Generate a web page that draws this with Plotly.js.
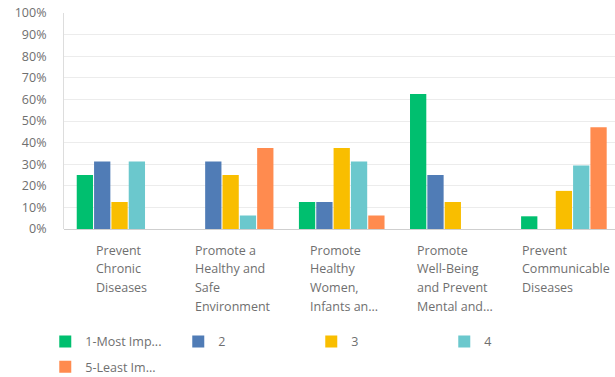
<!DOCTYPE html>
<html><head><meta charset="utf-8">
<script src="https://cdn.plot.ly/plotly-3.0.1.min.js"></script>
<style>html,body{margin:0;padding:0;background:#fff;overflow:hidden}</style>
</head><body><div id="chart" style="width:615px;height:377px"></div>
<script>
const categories = ["Prevent Chronic Diseases", "Promote a Healthy and Safe Environment", "Promote Healthy Women, Infants an...", "Promote Well-Being and Prevent Mental and...", "Prevent Communicable Diseases"];
const categoryLabelLines = [
  ["Prevent", "Chronic", "Diseases"],
  ["Promote a", "Healthy and", "Safe", "Environment"],
  ["Promote", "Healthy", "Women,", "Infants an..."],
  ["Promote", "Well-Being", "and Prevent", "Mental and..."],
  ["Prevent", "Communicable", "Diseases"]
];
const seriesNames = ["1-Most Imp...", "2", "3", "4", "5-Least Im..."];
const seriesColors = ["#00BF6F", "#507CB6", "#F9BE00", "#6BC8CD", "#FF8B4F"];
const rank1 = [25, 0, 12.5, 62.5, 5.88];
const rank2 = [31.25, 31.25, 12.5, 25, 0];
const rank3 = [12.5, 25, 37.5, 12.5, 17.65];
const rank4 = [31.25, 6.25, 31.25, 0, 29.41];
const rank5 = [0, 37.5, 6.25, 0, 47.06];
const yTickValues = [0, 10, 20, 30, 40, 50, 60, 70, 80, 90, 100];
const yTickLabels = ["0%", "10%", "20%", "30%", "40%", "50%", "60%", "70%", "80%", "90%", "100%"];

const seriesValues = [rank1, rank2, rank3, rank4, rank5];
const FONT = '"Open Sans", sans-serif';
const FS = 12.5;
const TEXT_COLOR = '#6f6f6f';

const traces = seriesValues.map((vals, i) => ({
  type: 'bar',
  name: seriesNames[i],
  x: categories,
  y: vals,
  marker: {color: seriesColors[i]},
  legend: i < 4 ? 'legend' : 'legend2',
  hoverinfo: 'none'
}));

// measure label widths so each block is left-aligned and centred under its group
const cv = document.createElement('canvas').getContext('2d');
cv.font = FS + 'px "Open Sans"';
const annotations = [];
categoryLabelLines.forEach((lines, ci) => {
  const blockW = Math.max(...lines.map(l => cv.measureText(l).width));
  lines.forEach((line, li) => {
    annotations.push({
      xref: 'x', yref: 'paper', x: categories[ci], y: 0,
      xanchor: 'left', yanchor: 'middle',
      xshift: -blockW / 2, yshift: -21 - li * 18.7,
      text: line, showarrow: false, align: 'left',
      font: {family: FONT, size: FS, color: TEXT_COLOR}
    });
  });
});

const legendCommon = {
  orientation: 'h', xanchor: 'left', yanchor: 'middle',
  font: {family: FONT, size: FS, color: TEXT_COLOR},
  entrywidth: 88, entrywidthmode: 'pixels',
  bgcolor: 'rgba(0,0,0,0)', borderwidth: 0
};

const layout = {
  width: 615, height: 377,
  margin: {l: 64, r: 0, t: 13, b: 148, autoexpand: false},
  paper_bgcolor: '#fff', plot_bgcolor: '#fff',
  barmode: 'group', bargap: 0.22, bargroupgap: 0.06,
  showlegend: true,
  legend: Object.assign({x: -0.034, y: -0.523}, legendCommon),
  legend2: Object.assign({x: -0.034, y: -0.639}, legendCommon),
  xaxis: {
    type: 'category', range: [-0.5, 4.46], showticklabels: false,
    showgrid: false, zeroline: false, showline: false, ticks: ''
  },
  yaxis: {
    range: [0, 100], tickvals: yTickValues, ticktext: yTickLabels,
    showgrid: true, gridcolor: '#ececec', gridwidth: 1,
    zeroline: true, zerolinecolor: '#cfcfcf', zerolinewidth: 1,
    showline: true, linecolor: '#dddddd', linewidth: 1,
    ticks: '', ticklabelstandoff: 14,
    tickfont: {family: FONT, size: FS, color: TEXT_COLOR}
  },
  annotations: annotations
};

Plotly.newPlot('chart', traces, layout, {displayModeBar: false, staticPlot: true});
</script></body></html>
